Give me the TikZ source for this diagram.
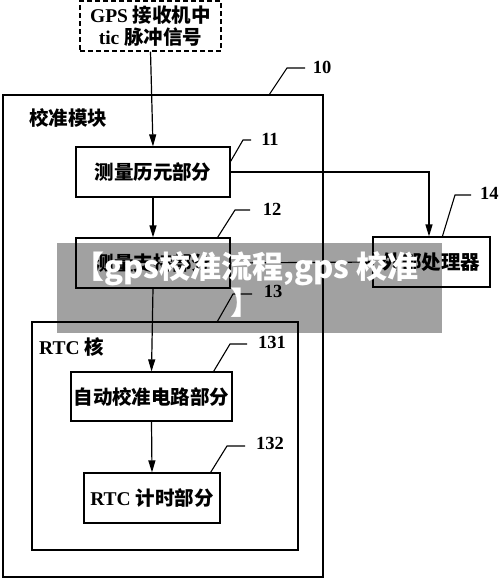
\documentclass[tikz,border=0pt]{standalone}
\usepackage{fontspec}
\setmainfont{Liberation Serif}
\newfontfamily\cjk{Noto Sans CJK SC}
\newfontfamily\wmfont{Noto Sans CJK SC}
\usetikzlibrary{arrows.meta,calc}
\tikzset{
  box/.style={draw, line width=1.2pt, inner sep=0pt, font=\fontsize{19.5}{22}\selectfont\bfseries},
  frame/.style={draw, line width=1.2pt, inner sep=0pt},
  dbox/.style={box, dashed, dash pattern=on 5pt off 3pt, align=center},
  arr/.style={line width=1.2pt, -{Triangle[length=12pt,width=7pt]}},
  lead/.style={line width=1.1pt},
  num/.style={font=\fontsize{18.5}{20}\selectfont\bfseries, inner sep=0pt},
  ttl/.style={font=\fontsize{19.5}{22}\selectfont\bfseries, inner sep=0pt, anchor=west},
  wmtext/.style={text=white, inner sep=0pt, font=\wmfont\bfseries\fontsize{31}{34}\selectfont}
}
\begin{document}
\begin{tikzpicture}[x=1pt,y=-1pt]
\useasboundingbox (0,0) rectangle (500,579);
% containers
\node[frame, minimum width=320, minimum height=482] (b10) at (163,336) {};
\node[frame, minimum width=266, minimum height=228] (b13) at (165,436) {};
% boxes
\node[dbox, minimum width=141, minimum height=50] (gps) at (150.5,26) {GPS {\cjk 接收机中}\\tic {\cjk 脉冲信号}};
\node[box, minimum width=154, minimum height=50] (b11) at (153,172) {\cjk 测量历元部分};
\node[box, minimum width=154, minimum height=50] (b12) at (153,263) {\cjk 测量支持部分};
\node[box, minimum width=117, minimum height=50] (b14) at (431.5,262) {\cjk 外部处理器};
\node[box, minimum width=161, minimum height=49] (b131) at (151.5,396.5) {\cjk 自动校准电路部分};
\node[box, minimum width=136, minimum height=50] (b132) at (152,498) {RTC {\cjk 计时部分}};
% titles
\node[ttl] (t10) at (29,118) {\cjk 校准模块};
\node[ttl] (t13) at (39,347) {RTC {\cjk 核}};
% connectors
\draw[arr] (gps.south) -- (b11.north);
\draw[arr] (b11.south) -- (b12.north);
\draw[arr] (b12.south) -- (b131.north);
\draw[arr] (b131.south) -- (b132.north);
\draw[arr] (b11.east) -| ($(b14.north)+(-2.5,0)$);
\draw[arr] (b12.east) -- (b14.west);
% leaders and numbers
\node[num] (n10) at (322,67) {10};
\draw[lead] ($(b10.north west)+(267,0)$) -- (287,68) -- (305,68);
\node[num] (n11) at (270,139) {11};
\draw[lead] ($(b11.north east)+(0,15)$) -- (243,140) -- (251,140);
\node[num] (n12) at (272,209) {12};
\draw[lead] ($(b12.north east)+(-13,0)$) -- (235,210) -- (250,210);
\node[num] (n13) at (273,291) {13};
\draw[lead] ($(b13.north west)+(186,0)$) -- (233,294) -- (252,294);
\node[num, anchor=west] (n14) at (480,193) {14};
\draw[lead] ($(b14.north west)+(70,0)$) -- (455,195) -- (471,195);
\node[num] (n131) at (272,342) {131};
\draw[lead] ($(b131.north east)+(-19,0)$) -- (230,344) -- (247,344);
\node[num] (n132) at (270,443) {132};
\draw[lead] ($(b132.north east)+(-10,0)$) -- (227,446) -- (245,446);
% watermark band
\fill[black, opacity=0.37] (57,243) rectangle (442,333);
\node[wmtext] (wm1) at (246,269) {【gps校准流程,gps 校准};
\node[wmtext] (wm2) at (246,303) {】};
\end{tikzpicture}
\end{document}
